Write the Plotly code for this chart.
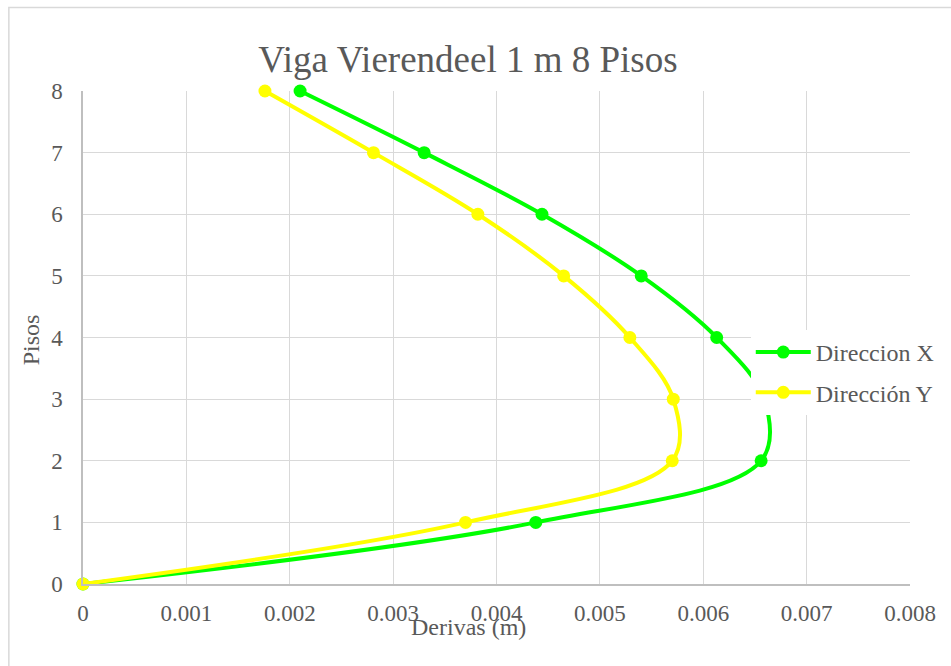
import plotly.graph_objects as go

pisos = [0, 1, 2, 3, 4, 5, 6, 7, 8]
deriva_x = [0, 0.00438, 0.00656, 0.00659, 0.00613, 0.00540, 0.00444, 0.00330, 0.00210]
deriva_y = [0, 0.00370, 0.00570, 0.00571, 0.00529, 0.00465, 0.00382, 0.00281, 0.00176]
x_ticks = [0, 0.001, 0.002, 0.003, 0.004, 0.005, 0.006, 0.007, 0.008]
x_ticklabels = ["0", "0.001", "0.002", "0.003", "0.004", "0.005", "0.006", "0.007", "0.008"]
y_ticks = [0, 1, 2, 3, 4, 5, 6, 7, 8]

FONT = "Liberation Serif"
GRAY = "#595959"

fig = go.Figure()
fig.add_trace(go.Scatter(
    x=deriva_x, y=pisos, name="Direccion X", mode="lines+markers",
    line=dict(color="#00FF00", width=4, shape="spline", smoothing=1.0),
    marker=dict(color="#00FF00", size=13), legendgroup="a", cliponaxis=False))
fig.add_trace(go.Scatter(
    x=deriva_y, y=pisos, name="Dirección Y", mode="lines+markers",
    line=dict(color="#FFFF00", width=4, shape="spline", smoothing=1.0),
    marker=dict(color="#FFFF00", size=13), legendgroup="b", cliponaxis=False))

W, H = 951, 666
L, R, T, B = 83, 914, 91, 584

def px2x(p):
    return (p - L) / (R - L)

def py2y(p):
    return (B - p) / (B - T)

fig.update_layout(
    width=W, height=H,
    margin=dict(l=L, r=W - R, t=T, b=H - B),
    paper_bgcolor="white", plot_bgcolor="white",
    font=dict(family=FONT, color=GRAY, size=23),
    title=dict(text="Viga Vierendeel 1 m 8 Pisos", x=468 / W, xanchor="center",
               y=1 - 59 / H, yanchor="middle", xref="container", yref="container",
               font=dict(size=37, color=GRAY, family=FONT)),
    showlegend=True,
    legend=dict(x=px2x(754), xanchor="left", y=py2y(330), yanchor="top",
                bgcolor="white", font=dict(size=24, color=GRAY, family=FONT),
                traceorder="grouped", tracegroupgap=6, itemwidth=55),
    xaxis=dict(range=[0, 0.008], tickvals=x_ticks, ticktext=x_ticklabels,
               showgrid=True, gridcolor="#d9d9d9", gridwidth=1.3,
               showline=True, linecolor="#bfbfbf", linewidth=1.5,
               zeroline=False, ticks="", ticklabelstandoff=8, mirror=False),
    yaxis=dict(range=[0, 8], tickvals=y_ticks,
               showgrid=True, gridcolor="#d9d9d9", gridwidth=1.3,
               showline=True, linecolor="#bfbfbf", linewidth=1.5,
               zeroline=False, ticks="", ticklabelstandoff=14),
)

fig.add_annotation(text="Derivas (m)", xref="paper", yref="paper",
                   x=px2x(470), y=py2y(627), xanchor="center", yanchor="middle",
                   showarrow=False, font=dict(size=24, color=GRAY, family=FONT))
fig.add_annotation(text="Pisos", xref="paper", yref="paper",
                   x=px2x(31), y=py2y(340), xanchor="center", yanchor="middle",
                   showarrow=False, textangle=-90,
                   font=dict(size=24, color=GRAY, family=FONT))

fig.add_shape(type="rect", xref="paper", yref="paper",
              x0=px2x(8.5), x1=px2x(960), y0=py2y(7.5), y1=py2y(680),
              line=dict(color="#d9d9d9", width=1.5), layer="below")

fig.write_html("out.html", config={"displayModeBar": False},
               post_script="document.body.style.margin='0px';")
